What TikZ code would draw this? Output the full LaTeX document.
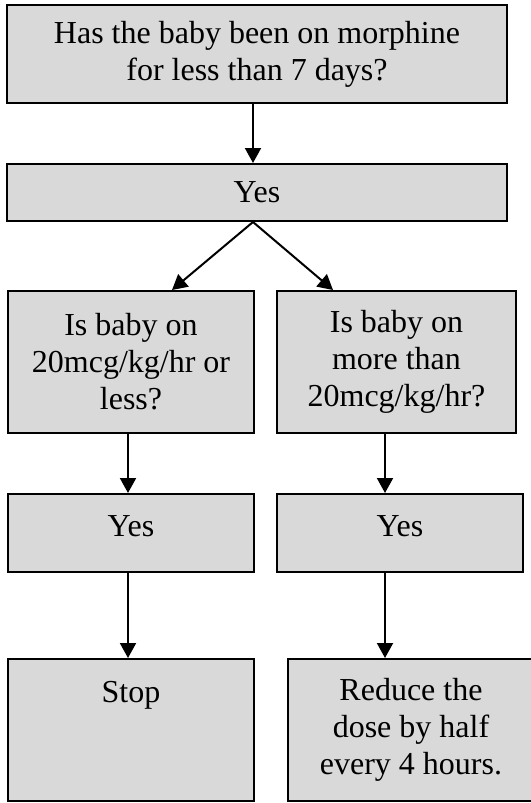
\documentclass[tikz,border=0pt]{standalone}
\usepackage{fontspec}
\setmainfont{Liberation Serif}
\usepackage{tikz}
\usetikzlibrary{positioning,arrows.meta}
\definecolor{boxgray}{RGB}{217,217,217}
\tikzset{
    box/.style={draw=black, line width=2pt, fill=boxgray, inner sep=0pt,
        align=center, font=\fontsize{32}{37}\selectfont},
    flow/.style={line width=2pt, -{Triangle[length=15pt,width=16pt]}}
}

\begin{document}
\begin{tikzpicture}[x=1pt,y=-1pt]
        \useasboundingbox (0,0) rectangle (530,803);

        %% Question
        \node[box, minimum width=500pt, minimum height=98pt] (morph) at (257,54)
        {Has the baby been on morphine\\for less than 7 days?};
        \node[box, minimum width=500pt, minimum height=57pt] (yes) at (257,192.5) {Yes};

        %% Two branches
        \node[box, minimum width=246pt, minimum height=142pt] (low) at (131,362)
        {Is baby on\\20mcg/kg/hr or\\less?};
        \node[box, minimum width=239pt, minimum height=142pt] (high) at (396.5,362)
        {Is baby on\\more than\\20mcg/kg/hr?};

        \node[box, minimum width=246pt, minimum height=78pt, text depth=14pt] (yeslow) at (131,533) {Yes};
        \node[box, minimum width=246pt, minimum height=78pt, text depth=14pt] (yeshigh) at (400,533) {Yes};

        \node[box, minimum width=246pt, minimum height=142pt, text depth=77pt] (stop) at (131,730) {Stop};
        \node[box, minimum width=246pt, minimum height=142pt] (reduce) at (411,730)
        {Reduce the\\dose by half\\every 4 hours.};

        %% Arrows
        \coordinate (mcol) at (253,0);
        \coordinate (lcol) at (128,0);
        \coordinate (rcol) at (385,0);
        \draw[flow] (morph.south -| mcol) -- (yes.north -| mcol);
        \draw[flow] (yes.south -| mcol) -- ([xshift=41pt]low.north);
        \draw[flow] (yes.south -| mcol) -- ([xshift=-63.5pt]high.north);
        \draw[flow] (low.south -| lcol) -- (yeslow.north -| lcol);
        \draw[flow] (high.south -| rcol) -- (yeshigh.north -| rcol);
        \draw[flow] (yeslow.south -| lcol) -- (stop.north -| lcol);
        \draw[flow] (yeshigh.south -| rcol) -- (reduce.north -| rcol);
    \end{tikzpicture}
\end{document}
